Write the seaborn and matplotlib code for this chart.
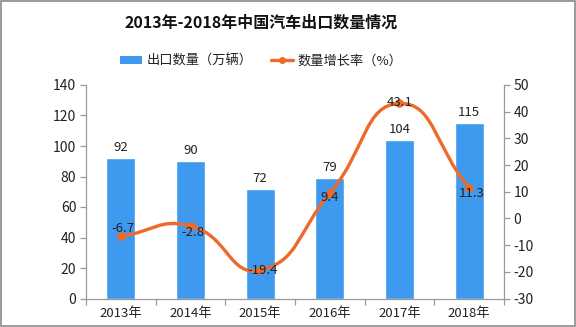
import numpy as np
import pandas as pd
import matplotlib
matplotlib.use("Agg")
import matplotlib.pyplot as plt
from matplotlib.path import Path
from matplotlib.patches import PathPatch, Patch, Rectangle
from matplotlib.lines import Line2D
import seaborn as sns

# ---- data ----
years = ["2013年", "2014年", "2015年", "2016年", "2017年", "2018年"]
export_volume = [92, 90, 72, 79, 104, 115]          # 万辆
growth_rate = [-6.7, -2.8, -19.4, 9.4, 43.1, 11.3]  # %
left_ticks = [0, 20, 40, 60, 80, 100, 120, 140]
right_ticks = [-30, -20, -10, 0, 10, 20, 30, 40, 50]

title = "2013年-2018年中国汽车出口数量情况"
bar_name = "出口数量（万辆）"
line_name = "数量增长率（%）"

# ---- style ----
BAR_C = "#3E9AEE"
LINE_C = "#EE6A2A"
AX_C = "#9A9A9A"
TXT_C = "#222222"

sns.set_theme(style="white")
plt.rcParams["font.family"] = ["Noto Sans CJK SC", "DejaVu Sans"]
plt.rcParams["axes.unicode_minus"] = False

fig = plt.figure(figsize=(5.76, 3.27), dpi=100)
ax = fig.add_axes([86 / 576, 1 - 298.5 / 327, (504 - 86) / 576, (298.5 - 85) / 327])

df = pd.DataFrame({"year": years, "export": export_volume, "growth": growth_rate})
sns.barplot(data=df, x="year", y="export", color=BAR_C, saturation=1,
            width=0.42, ax=ax)
ax.set_xlim(-0.5, len(years) - 0.5)
ax.set_ylim(left_ticks[0], left_ticks[-1])
ax.set_yticks(left_ticks)
ax.set_xlabel("")
ax.set_ylabel("")
for c in ax.containers:
    ax.bar_label(c, labels=[str(v) for v in export_volume], padding=3,
                 fontsize=9.5, color=TXT_C)

ax2 = ax.twinx()
ax2.set_ylim(right_ticks[0], right_ticks[-1])
ax2.set_yticks(right_ticks)

# smooth curve (ECharts-like bezier smoothing) through the data points
x = np.arange(len(years), dtype=float)
y = np.array(growth_rate, dtype=float)
sx = 70.0
sy = 213.5 / (right_ticks[-1] - right_ticks[0])
P = np.column_stack([x * sx, y * sy])
smooth = 0.5
n = len(P)
cps_in, cps_out = [None] * n, [None] * n
for i in range(n):
    prev = P[i - 1] if i > 0 else P[i]
    nxt = P[i + 1] if i < n - 1 else P[i]
    v = (nxt - prev) * smooth
    d0 = np.linalg.norm(P[i] - prev)
    d1 = np.linalg.norm(nxt - P[i])
    s = d0 + d1
    r0, r1 = (d0 / s, d1 / s) if s > 0 else (0, 0)
    cps_in[i] = P[i] - v * r0
    cps_out[i] = P[i] + v * r1
verts = [P[0]]
codes = [Path.MOVETO]
for i in range(n - 1):
    verts += [cps_out[i], cps_in[i + 1], P[i + 1]]
    codes += [Path.CURVE4] * 3
verts = np.array(verts) / np.array([sx, sy])
ax2.add_patch(PathPatch(Path(verts, codes), facecolor="none", edgecolor=LINE_C,
                        lw=2.4, zorder=3, capstyle="round"))
sns.scatterplot(x=x, y=y, ax=ax2, color=LINE_C, s=38, edgecolor=LINE_C,
                linewidth=0, zorder=4, legend=False)

# point labels (pixel offsets per point)
lab_off = [(2, 8), (2, -7), (2, 0), (0, -4), (0, 1), (3, -5)]
for xi, yi, (dx, dy) in zip(x, y, lab_off):
    ax2.annotate(f"{yi:g}", (xi, yi), xytext=(dx * 0.72, dy * 0.72),
                 textcoords="offset points", ha="center", va="center",
                 fontsize=9.5, color=TXT_C, zorder=5)

# axes styling
for a in (ax, ax2):
    a.spines["top"].set_visible(False)
    for sp in ("left", "right", "bottom"):
        a.spines[sp].set_color(AX_C)
        a.spines[sp].set_linewidth(0.9)
ax.spines["right"].set_visible(False)
ax2.spines["left"].set_visible(False)
ax2.spines["bottom"].set_visible(False)
ax.tick_params(axis="y", which="major", left=True, length=4, width=0.9,
               color=AX_C, labelsize=10, labelcolor=TXT_C, pad=3)
ax2.tick_params(axis="y", which="major", right=True, length=4, width=0.9,
                color=AX_C, labelsize=10, labelcolor=TXT_C, pad=3)
ax.tick_params(axis="x", which="major", length=0, labelsize=9.5,
               labelcolor=TXT_C, pad=6)
ax.set_xticks(np.arange(-0.5, len(years) + 0.5, 1.0), minor=True)
ax.tick_params(axis="x", which="minor", bottom=True, length=4, width=0.9,
               color=AX_C)

# title & legend
cx = 261 / 576
fig.text(cx, 1 - 23 / 327, title, ha="center", va="center", fontsize=11.5,
         fontweight="bold", color="#111111")
handles = [Patch(facecolor=BAR_C, edgecolor="none"),
           Line2D([], [], color=LINE_C, lw=2.4, marker="o", markersize=4)]
fig.legend(handles, [bar_name, line_name], loc="center",
           bbox_to_anchor=(cx, 1 - 61 / 327), ncol=2, frameon=False,
           fontsize=9.5, handlelength=1.7, handleheight=0.6,
           columnspacing=1.4, handletextpad=0.3, labelcolor=TXT_C)

# outer border
fig.add_artist(Rectangle((0.001, 0.002), 0.997, 0.996, transform=fig.transFigure,
                         fill=False, edgecolor="#8A8A8A", lw=1.2))

fig.savefig("out.png", dpi=100)
